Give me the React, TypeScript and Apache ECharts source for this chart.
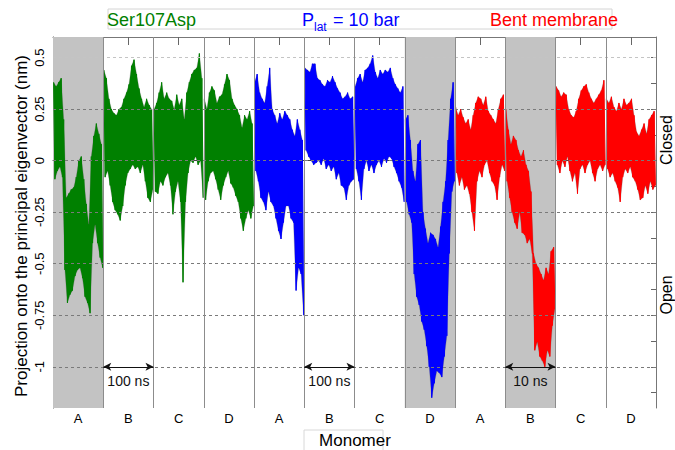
import React, { useEffect, useRef } from "react";
import * as echarts from "echarts";

const FONT = "'Liberation Sans', Arial, Helvetica, sans-serif";

// Monomers and simulation conditions along the x axis
const monomers = ["A", "B", "C", "D"];
const conditions = ["Ser107Asp", "Plat = 10 bar", "Bent membrane"];
const conditionColors = ["#008000", "#0000ff", "#ff0000"];

// Y axis: labelled values and minor tick positions (nm)
const yLabelValues = [-1, -0.75, -0.5, -0.25, 0, 0.25, 0.5];
const yTickValues = [
  -1.125, -1, -0.875, -0.75, -0.625, -0.5, -0.375, -0.25, -0.125, 0, 0.125,
  0.25, 0.375, 0.5,
];

// Panels with a grey background (global panel index, 0 = Ser107Asp A)
const shadedPanels = [0, 7, 9];

// Time-scale bars drawn at y = -1 (panel index of the start)
const scaleBarStarts = [1, 5, 9];
const scaleBarLabels = ["100 ns", "100 ns", "10 ns"];
const scaleBarLevel = -1;

// Projection traces: upper / lower extent of each stretch of trajectory
const ser107A_hi = [0.38, 0.36, 0.38, 0.40, 0.20, -0.18, -0.16, -0.14, -0.13, -0.08, 0.00, 0.02, -0.09, -0.21, -0.31, 0.02, 0.12, 0.18, 0.13, 0.08];
const ser107A_lo = [-0.09, -0.05, -0.03, -0.08, -0.53, -0.69, -0.65, -0.63, -0.56, -0.53, -0.52, -0.57, -0.66, -0.69, -0.74, -0.40, -0.31, -0.40, -0.47, -0.52];
const ser107B_hi = [0.44, 0.40, 0.30, 0.25, 0.23, 0.22, 0.25, 0.26, 0.30, 0.33, 0.37, 0.46, 0.49, 0.42, 0.35, 0.30, 0.26, 0.30, 0.27, 0.25];
const ser107B_lo = [-0.08, -0.05, -0.12, -0.20, -0.24, -0.26, -0.29, -0.22, -0.12, -0.06, -0.04, -0.02, -0.04, -0.03, -0.06, -0.02, -0.10, -0.18, -0.20, -0.14];
const ser107C_hi = [0.25, 0.28, 0.33, 0.38, 0.30, 0.33, 0.30, 0.29, 0.25, 0.32, 0.27, 0.30, 0.20, 0.33, 0.38, 0.42, 0.44, 0.45, 0.52, 0.40];
const ser107C_lo = [-0.15, -0.16, -0.10, -0.12, -0.08, -0.06, -0.12, -0.26, -0.15, -0.10, -0.20, -0.59, -0.20, -0.06, 0.00, -0.01, 0.02, -0.02, 0.00, -0.18];
const ser107D_hi = [0.30, 0.25, 0.33, 0.36, 0.34, 0.28, 0.31, 0.32, 0.37, 0.42, 0.39, 0.30, 0.27, 0.25, 0.22, 0.16, 0.22, 0.20, 0.24, 0.18];
const ser107D_lo = [-0.19, -0.10, -0.06, -0.05, -0.09, -0.14, -0.19, -0.12, -0.08, -0.05, -0.11, -0.13, -0.17, -0.20, -0.28, -0.34, -0.28, -0.24, -0.28, -0.22];

const platA_hi = [0.38, 0.42, 0.33, 0.30, 0.28, 0.36, 0.45, 0.25, 0.22, 0.18, 0.23, 0.20, 0.24, 0.22, 0.20, 0.15, 0.12, 0.20, 0.15, 0.10];
const platA_lo = [-0.05, -0.10, -0.18, -0.20, -0.24, -0.15, -0.20, -0.22, -0.28, -0.34, -0.38, -0.30, -0.22, -0.22, -0.28, -0.30, -0.63, -0.52, -0.55, -0.75];
const platB_hi = [0.45, 0.44, 0.43, 0.47, 0.47, 0.40, 0.39, 0.37, 0.36, 0.39, 0.38, 0.41, 0.38, 0.35, 0.33, 0.30, 0.31, 0.33, 0.30, 0.31];
const platB_lo = [0.05, 0.02, 0.00, -0.02, -0.01, 0.00, -0.02, 0.01, -0.04, -0.02, -0.05, -0.03, -0.09, -0.06, -0.12, -0.13, -0.19, -0.12, -0.10, -0.09];
const platC_hi = [0.36, 0.40, 0.42, 0.38, 0.44, 0.45, 0.47, 0.51, 0.43, 0.40, 0.44, 0.42, 0.44, 0.43, 0.45, 0.40, 0.37, 0.35, 0.33, 0.36];
const platC_lo = [-0.04, -0.10, -0.19, -0.04, 0.00, -0.05, -0.02, -0.06, -0.02, 0.00, -0.03, 0.01, -0.01, 0.02, 0.01, -0.03, -0.06, -0.10, -0.13, -0.20];
const platD_hi = [0.20, 0.22, 0.10, -0.05, -0.10, 0.08, 0.10, -0.25, -0.33, -0.40, -0.35, -0.36, -0.38, -0.42, -0.32, -0.20, -0.10, 0.10, 0.30, 0.38];
const platD_lo = [-0.20, -0.26, -0.30, -0.55, -0.66, -0.70, -0.78, -0.82, -0.90, -1.00, -1.15, -1.08, -1.02, -1.03, -1.05, -0.95, -0.85, -0.45, -0.15, -0.10];

const bentA_hi = [0.26, 0.22, 0.25, 0.21, 0.18, 0.20, 0.15, 0.22, 0.28, 0.31, 0.30, 0.27, 0.31, 0.24, 0.22, 0.20, 0.18, 0.25, 0.30, 0.32];
const bentA_lo = [-0.06, -0.12, -0.08, -0.14, -0.12, -0.16, -0.25, -0.34, -0.10, -0.05, -0.08, -0.02, 0.00, -0.06, -0.10, -0.12, -0.19, -0.08, -0.02, -0.05];
const bentB_hi = [0.25, 0.15, 0.08, 0.12, 0.10, 0.05, 0.02, 0.05, -0.02, -0.05, -0.15, -0.45, -0.50, -0.52, -0.55, -0.58, -0.52, -0.55, -0.44, -0.42];
const bentB_lo = [-0.10, -0.18, -0.25, -0.30, -0.33, -0.25, -0.35, -0.36, -0.40, -0.38, -0.45, -0.92, -0.88, -0.95, -0.97, -1.00, -0.92, -0.95, -0.80, -0.72];
const bentC_hi = [0.36, 0.34, 0.31, 0.33, 0.32, 0.25, 0.22, 0.21, 0.24, 0.30, 0.34, 0.36, 0.37, 0.33, 0.30, 0.28, 0.30, 0.32, 0.34, 0.39];
const bentC_lo = [-0.02, -0.06, 0.00, -0.03, 0.02, -0.05, -0.10, -0.06, -0.16, -0.04, -0.02, -0.06, -0.02, 0.00, -0.06, -0.10, -0.04, -0.02, -0.05, -0.02];
const bentD_hi = [0.30, 0.28, 0.31, 0.26, 0.24, 0.28, 0.25, 0.30, 0.27, 0.28, 0.30, 0.22, 0.14, 0.12, 0.15, 0.18, 0.13, 0.20, 0.22, 0.24];
const bentD_lo = [-0.04, -0.08, -0.06, -0.10, -0.13, -0.20, -0.08, -0.04, -0.06, -0.03, -0.08, -0.10, -0.14, -0.19, -0.18, -0.12, -0.16, -0.10, -0.14, -0.12];

const traces = [
  [[ser107A_hi, ser107A_lo], [ser107B_hi, ser107B_lo], [ser107C_hi, ser107C_lo], [ser107D_hi, ser107D_lo]],
  [[platA_hi, platA_lo], [platB_hi, platB_lo], [platC_hi, platC_lo], [platD_hi, platD_lo]],
  [[bentA_hi, bentA_lo], [bentB_hi, bentB_lo], [bentC_hi, bentC_lo], [bentD_hi, bentD_lo]],
];

// One category per monomer panel; the suffix keeps the names unique
const panelKeys = conditions.flatMap((_, ci) => monomers.map((m) => m + ci));

// Sample position inside a panel: upper extent slightly before the lower one
const hiPos = (panel: number, k: number, n: number) => panel + (k + 0.25) / n;
const loPos = (panel: number, k: number, n: number) => panel + (k + 0.75) / n;

// Trace alternates between the upper and lower extent of each stretch,
// with a break between monomers
function traceData(conditionIndex: number) {
  const out: ([number, number] | null)[] = [];
  traces[conditionIndex].forEach(([hi, lo], mi) => {
    const panel = conditionIndex * monomers.length + mi;
    const n = hi.length;
    for (let k = 0; k < n; k++) {
      out.push([hiPos(panel, k, n), hi[k]]);
      out.push([loPos(panel, k, n), lo[k]]);
    }
    out.push(null);
  });
  return out;
}

// Filled band between the upper and lower extents, one polygon per panel
function bandRenderer(conditionIndex: number) {
  return (params: any, api: any) => {
    const mi = params.dataIndex;
    const [hi, lo] = traces[conditionIndex][mi];
    const panel = conditionIndex * monomers.length + mi;
    const n = hi.length;
    const pts: number[][] = [];
    for (let k = 0; k < n; k++) pts.push(api.coord([hiPos(panel, k, n), hi[k]]));
    for (let k = n - 1; k >= 0; k--) pts.push(api.coord([loPos(panel, k, n), lo[k]]));
    return {
      type: "polygon",
      shape: { points: pts },
      style: {
        fill: conditionColors[conditionIndex],
        stroke: "rgba(90,90,90,0.35)",
        lineWidth: 0.8,
      },
    };
  };
}

export default function App() {
  const ref = useRef<HTMLDivElement>(null);

  useEffect(() => {
    if (!ref.current) return;
    const chart = echarts.init(ref.current, undefined, { renderer: "svg" });

    const boundaries: number[] = [];
    for (let i = 1; i < panelKeys.length; i++) boundaries.push(i);

    const option: any = {
      animation: false,
      textStyle: { fontFamily: FONT },
      grid: { left: 53, right: 19, top: 37, bottom: 42 },
      xAxis: [
        { type: "value", min: 0, max: 12, show: false },
        {
          type: "category",
          data: panelKeys,
          position: "bottom",
          boundaryGap: true,
          axisLine: { show: true, lineStyle: { color: "#444", width: 1 } },
          axisTick: { show: true, inside: true, alignWithLabel: true, length: 8, lineStyle: { color: "#666" } },
          axisLabel: { formatter: (v: string) => v.charAt(0), color: "#000", fontSize: 13, margin: 4, fontFamily: FONT },
          splitLine: { show: false },
        },
        {
          type: "category",
          data: panelKeys,
          position: "top",
          boundaryGap: true,
          axisLine: { show: true, lineStyle: { color: "#777", width: 1 } },
          axisTick: { show: true, inside: true, alignWithLabel: true, length: 8, lineStyle: { color: "#666" } },
          axisLabel: { show: false },
          splitLine: { show: false },
        },
      ],
      yAxis: [
        {
          type: "value",
          min: -1.2,
          max: 0.6,
          position: "left",
          axisLine: { show: true, lineStyle: { color: "#444" } },
          axisTick: { show: true, inside: true, length: 5, customValues: yTickValues, lineStyle: { color: "#666" } },
          axisLabel: { customValues: yLabelValues, rotate: 90, margin: 7, fontSize: 13, color: "#000", fontFamily: FONT },
          splitLine: { show: false },
        },
        {
          type: "value",
          min: -1.2,
          max: 0.6,
          position: "right",
          axisLine: { show: true, lineStyle: { color: "#777" } },
          axisTick: { show: true, inside: true, length: 5, customValues: yTickValues, lineStyle: { color: "#666" } },
          axisLabel: { show: false },
          splitLine: { show: false },
        },
      ],
      series: [
        {
          name: "shade",
          type: "line",
          data: [],
          z: 1,
          silent: true,
          markArea: {
            silent: true,
            itemStyle: { color: "#c3c3c3" },
            data: shadedPanels.map((p) => [{ xAxis: p }, { xAxis: p + 1 }]),
          },
        },
        {
          name: "hgrid",
          type: "line",
          data: [],
          z: 2,
          silent: true,
          markLine: {
            silent: true,
            symbol: "none",
            label: { show: false },
            data: yLabelValues.map((v) => ({
              yAxis: v,
              lineStyle: { color: v === 0.5 ? "#c4c4c4" : "#7a7a7a", type: [3, 3], width: 1 },
            })),
          },
        },
        ...conditions.map((c, ci) => ({
          name: c + " band",
          type: "custom",
          data: monomers.map((_, mi) => mi),
          z: 3,
          silent: true,
          renderItem: bandRenderer(ci),
        })),
        ...conditions.map((c, ci) => ({
          name: c,
          type: "line",
          data: traceData(ci),
          z: 4,
          showSymbol: false,
          connectNulls: false,
          lineStyle: { color: conditionColors[ci], width: 1 },
          itemStyle: { color: conditionColors[ci] },
        })),
        {
          name: "vgrid",
          type: "line",
          data: [],
          z: 5,
          silent: true,
          markLine: {
            silent: true,
            symbol: "none",
            label: { show: false },
            data: boundaries.map((b) => ({
              xAxis: b,
              lineStyle: { color: "#8c8c8c", type: "solid", width: 1 },
            })),
          },
        },
        {
          name: "scale",
          type: "line",
          data: [],
          z: 6,
          silent: true,
          markLine: {
            silent: true,
            symbol: ["arrow", "arrow"],
            symbolSize: [6, 8],
            lineStyle: { color: "#111", type: "solid", width: 1.2 },
            label: {
              show: true,
              position: "insideMiddleBottom",
              distance: 7,
              color: "#111",
              fontSize: 14,
              fontFamily: FONT,
            },
            data: scaleBarStarts.map((s, i) => [
              { coord: [s, scaleBarLevel], name: scaleBarLabels[i], label: { formatter: scaleBarLabels[i] } },
              { coord: [s + 1, scaleBarLevel] },
            ]),
          },
        },
      ],
      graphic: [
        {
          type: "rect",
          shape: { x: 108, y: 9, width: 504, height: 20 },
          style: { fill: "none", stroke: "#d4d4d4", lineWidth: 1 },
          silent: true,
        },
        {
          type: "text",
          x: 107,
          y: 20,
          style: { text: conditions[0], fill: conditionColors[0], font: `18px ${FONT}`, verticalAlign: "middle" },
        },
        {
          type: "text",
          x: 302,
          y: 20,
          style: { text: "P", fill: conditionColors[1], font: `18px ${FONT}`, verticalAlign: "middle" },
        },
        {
          type: "text",
          x: 314,
          y: 27,
          style: { text: "lat", fill: conditionColors[1], font: `12px ${FONT}`, verticalAlign: "middle" },
        },
        {
          type: "text",
          x: 333,
          y: 20,
          style: { text: "= 10 bar", fill: conditionColors[1], font: `18px ${FONT}`, verticalAlign: "middle" },
        },
        {
          type: "text",
          x: 490,
          y: 20,
          style: { text: conditions[2], fill: conditionColors[2], font: `18px ${FONT}`, verticalAlign: "middle" },
        },
        {
          type: "text",
          x: 21,
          y: 226,
          rotation: Math.PI / 2,
          style: {
            text: "Projection onto the principal eigenvector (nm)",
            fill: "#000",
            font: `17px ${FONT}`,
            align: "center",
            verticalAlign: "middle",
          },
        },
        {
          type: "text",
          x: 666,
          y: 140,
          rotation: Math.PI / 2,
          style: { text: "Closed", fill: "#000", font: `16px ${FONT}`, align: "center", verticalAlign: "middle" },
        },
        {
          type: "text",
          x: 666,
          y: 295,
          rotation: Math.PI / 2,
          style: { text: "Open", fill: "#000", font: `16px ${FONT}`, align: "center", verticalAlign: "middle" },
        },
        {
          type: "rect",
          shape: { x: 304, y: 430, width: 79, height: 24 },
          style: { fill: "none", stroke: "#d8d8d8", lineWidth: 1 },
          silent: true,
        },
        {
          type: "text",
          x: 355,
          y: 440,
          style: { text: "Monomer", fill: "#000", font: `17px ${FONT}`, align: "center", verticalAlign: "middle" },
        },
      ],
    };

    chart.setOption(option);
    return () => chart.dispose();
  }, []);

  return (
    <div
      ref={ref}
      style={{ position: "absolute", left: 0, top: 0, width: 675, height: 450 }}
    />
  );
}
